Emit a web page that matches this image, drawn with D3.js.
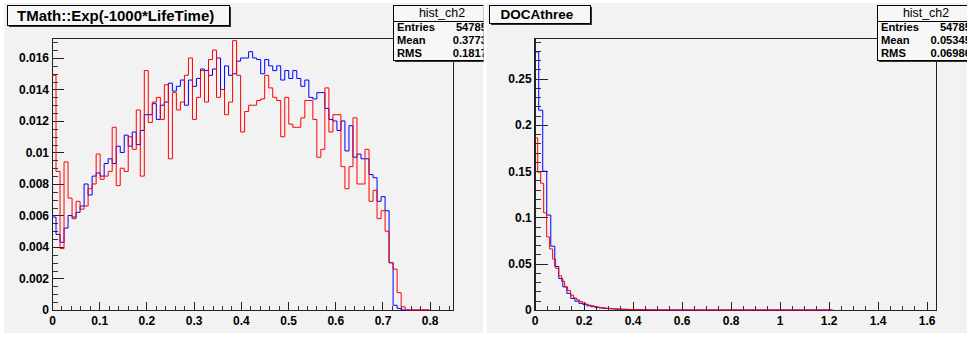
<!DOCTYPE html>
<html>
<head>
<meta charset="utf-8">
<script src="https://cdn.jsdelivr.net/npm/d3@7"></script>
<style>
  body { margin: 0; background: #fff; }
  svg text { font-family: "Liberation Sans", Arial, Helvetica, sans-serif; }
</style>
</head>
<body>
<svg id="chart" width="967" height="342"></svg>
<script>
// ---- left pad: TMath::Exp(-1000*LifeTime) ----
const leftBinWidth = 0.0085;
const leftBlue = [
  0.0059, 0.0048, 0.0043, 0.0052, 0.0060, 0.0059, 0.0062, 0.0066, 0.0080, 0.0073,
  0.0085, 0.0087, 0.0085, 0.0093, 0.0096, 0.0093, 0.0104, 0.0100, 0.0111, 0.0104,
  0.0113, 0.0105, 0.0114, 0.0124, 0.0124, 0.0131, 0.0121, 0.0130, 0.0132, 0.0144,
  0.0139, 0.0142, 0.0146, 0.0130, 0.0146, 0.0142, 0.0147, 0.0153, 0.0152, 0.0149,
  0.0153, 0.0160, 0.0140, 0.0155, 0.0149, 0.0150, 0.0158, 0.0160, 0.0160, 0.0164,
  0.0160, 0.0159, 0.0150, 0.0159, 0.0155, 0.0152, 0.0155, 0.0146, 0.0152, 0.0147,
  0.0152, 0.0147, 0.0142, 0.0146, 0.0135, 0.0134, 0.0138, 0.0138, 0.0128, 0.0121,
  0.0120, 0.0114, 0.0120, 0.0101, 0.0117, 0.0097, 0.0099, 0.0096, 0.0096, 0.0086,
  0.0084, 0.0069, 0.0072, 0.0063, 0.0030, 0.0003, 0.0001, 0, 0, 0,
  0, 0, 0, 0
];
const leftRed = [
  0.0149, 0.0088, 0.0039, 0.0094, 0.0071, 0.0058, 0.0069, 0.0064, 0.0066, 0.0077,
  0.0080, 0.0099, 0.0083, 0.0085, 0.0088, 0.0116, 0.0079, 0.0090, 0.0088, 0.0110,
  0.0102, 0.0127, 0.0085, 0.0152, 0.0119, 0.0132, 0.0135, 0.0121, 0.0143, 0.0096,
  0.0138, 0.0127, 0.0132, 0.0149, 0.0160, 0.0121, 0.0135, 0.0152, 0.0132, 0.0159,
  0.0165, 0.0135, 0.0140, 0.0124, 0.0132, 0.0171, 0.0149, 0.0113, 0.0126, 0.0130,
  0.0130, 0.0133, 0.0134, 0.0149, 0.0141, 0.0135, 0.0133, 0.0110, 0.0135, 0.0118,
  0.0116, 0.0116, 0.0122, 0.0133, 0.0133, 0.0121, 0.0097, 0.0102, 0.0141, 0.0113,
  0.0124, 0.0124, 0.0091, 0.0077, 0.0091, 0.0122, 0.0080, 0.0080, 0.0102, 0.0069,
  0.0076, 0.0058, 0.0063, 0.0050, 0.0030, 0.0026, 0.0011, 0.0002, 0, 0,
  0, 0, 0, 0
];
const leftXTicks = [0, 0.1, 0.2, 0.3, 0.4, 0.5, 0.6, 0.7, 0.8];
const leftYTicks = [0, 0.002, 0.004, 0.006, 0.008, 0.01, 0.012, 0.014, 0.016];
const leftStats = ["54785", "0.3773", "0.1817"];

// ---- right pad: DOCAthree ----
const rightBlueWidth = 0.0164;
const rightRedWidth = 0.0122;
const rightBlue = [
  0.279, 0.216, 0.150, 0.1026, 0.069, 0.047, 0.034, 0.025, 0.018, 0.0125,
  0.0095, 0.0072, 0.0060, 0.0045, 0.0036, 0.0028, 0.0022, 0.0018, 0.0015, 0.0012,
  0.0010, 0.0008, 0.0007, 0.0006, 0.0005, 0.0004, 0.0003, 0.0002, 0.0001, 0.0001,
  0.0001, 0, 0, 0, 0, 0, 0, 0, 0, 0,
  0, 0, 0, 0, 0, 0, 0, 0, 0, 0,
  0, 0, 0, 0, 0, 0, 0, 0, 0, 0,
  0, 0, 0, 0, 0, 0, 0, 0, 0, 0,
  0, 0, 0, 0
];
const rightRed = [
  0.186, 0.149, 0.137, 0.105, 0.079, 0.066, 0.055, 0.045, 0.037, 0.031,
  0.025, 0.021, 0.016, 0.013, 0.011, 0.009, 0.0075, 0.0062, 0.0052, 0.0045,
  0.0036, 0.0030, 0.0026, 0.0022, 0.0018, 0.0015, 0.0013, 0.0011, 0.0009, 0.0008,
  0.0007, 0.0006, 0.0005, 0.0005, 0.0004, 0.0004, 0.0003, 0.0003, 0.0002, 0.0002,
  0.0002, 0.0001, 0.0001, 0.0001, 0.0001, 0.0001, 0, 0.0001, 0, 0,
  0, 0, 0, 0, 0, 0, 0, 0, 0, 0,
  0, 0, 0, 0, 0, 0, 0, 0, 0, 0,
  0, 0, 0, 0, 0, 0, 0, 0, 0, 0,
  0, 0, 0, 0, 0, 0, 0, 0, 0, 0,
  0, 0, 0, 0, 0, 0, 0, 0, 0, 0
];
const rightXTicks = [0, 0.2, 0.4, 0.6, 0.8, 1, 1.2, 1.4, 1.6];
const rightYTicks = [0, 0.05, 0.1, 0.15, 0.2, 0.25];
const rightStats = ["54785", "0.05345", "0.06986"];

const statLabels = ["Entries", "Mean", "RMS"];
const statsName = "hist_ch2";

const PAD = "#f2f2f2";
const svg = d3.select("#chart");
const fmt = d3.format("~g");

function stepPath(values, width, x, y) {
  const pts = values.map((v, i) => [i * width, v]);
  pts.push([values.length * width, values[values.length - 1]]);
  return d3.line()
    .x(d => x(d[0]))
    .y(d => y(d[1]))
    .curve(d3.curveStepAfter)(pts);
}

function minorTicks(domain, step) {
  const n = Math.floor(domain[1] / step + 1e-6);
  return d3.range(n + 1).map(i => +(i * step).toFixed(6));
}

function drawPanel(p) {
  svg.append("clipPath").attr("id", p.id + "-clip")
    .append("rect")
    .attr("x", p.pad[0]).attr("y", p.pad[1])
    .attr("width", p.pad[2] - p.pad[0]).attr("height", p.pad[3] - p.pad[1]);

  const g = svg.append("g").attr("clip-path", `url(#${p.id}-clip)`);

  g.append("rect")
    .attr("x", p.pad[0]).attr("y", p.pad[1])
    .attr("width", p.pad[2] - p.pad[0]).attr("height", p.pad[3] - p.pad[1])
    .attr("fill", PAD);

  const x = d3.scaleLinear().domain(p.xDomain).range([p.frame.x0, p.frame.x1]);
  const y = d3.scaleLinear().domain(p.yDomain).range([p.frame.y1, p.frame.y0]);

  // frame
  g.append("rect")
    .attr("x", p.frame.x0).attr("y", p.frame.y0)
    .attr("width", p.frame.x1 - p.frame.x0).attr("height", p.frame.y1 - p.frame.y0)
    .attr("fill", PAD).attr("stroke", "#222").attr("stroke-width", 1)
    .attr("shape-rendering", "crispEdges");

  // minor ticks
  g.append("g")
    .attr("transform", `translate(${p.frame.x0},0)`)
    .call(d3.axisLeft(y).tickValues(minorTicks(p.yDomain, p.yMinor))
      .tickSize(-p.yMinorLen).tickSizeOuter(0).tickFormat(""))
    .call(a => a.select(".domain").remove())
    .attr("color", "#333").attr("shape-rendering", "crispEdges");

  g.append("g")
    .attr("transform", `translate(0,${p.frame.y1})`)
    .call(d3.axisBottom(x).tickValues(minorTicks(p.xDomain, p.xMinor))
      .tickSize(-4).tickSizeOuter(0).tickFormat(""))
    .call(a => a.select(".domain").remove())
    .attr("color", "#333").attr("shape-rendering", "crispEdges");

  // major ticks + labels
  const yAxis = g.append("g")
    .attr("transform", `translate(${p.frame.x0},0)`)
    .call(d3.axisLeft(y).tickValues(p.yTicks).tickSize(-p.yMajorLen)
      .tickSizeOuter(0).tickPadding(3).tickFormat(fmt));
  const xAxis = g.append("g")
    .attr("transform", `translate(0,${p.frame.y1})`)
    .call(d3.axisBottom(x).tickValues(p.xTicks).tickSize(-8)
      .tickSizeOuter(0).tickPadding(6.5).tickFormat(fmt));
  [yAxis, xAxis].forEach(a => {
    a.attr("font-size", 12).attr("font-family", null).attr("color", "#222")
      .attr("shape-rendering", "crispEdges");
    a.selectAll("text").attr("font-weight", "bold").attr("fill", "#000")
      .attr("shape-rendering", null);
  });

  // histograms
  p.series.forEach(s => {
    g.append("path")
      .attr("d", stepPath(s.values, s.width, x, y))
      .attr("fill", "none")
      .attr("stroke", s.color)
      .attr("stroke-width", 1);
  });

  // title box
  const t = p.title;
  g.append("rect").attr("x", t.x + 2).attr("y", t.y + 2)
    .attr("width", t.w).attr("height", t.h).attr("fill", "#333");
  g.append("rect").attr("x", t.x).attr("y", t.y)
    .attr("width", t.w).attr("height", t.h)
    .attr("fill", "#f7f7f7").attr("stroke", "#000").attr("stroke-width", 1)
    .attr("shape-rendering", "crispEdges");
  g.append("text").attr("x", t.x + t.pad).attr("y", t.y + t.base)
    .attr("font-size", t.size).attr("font-weight", "bold")
    .text(t.text);

  // stats box
  const b = p.stats;
  g.append("rect").attr("x", b.x + 2).attr("y", b.y + 2)
    .attr("width", b.w).attr("height", b.h).attr("fill", "#333");
  g.append("rect").attr("x", b.x).attr("y", b.y)
    .attr("width", b.w).attr("height", b.h)
    .attr("fill", "#f7f7f7").attr("stroke", "#000").attr("stroke-width", 1)
    .attr("shape-rendering", "crispEdges");
  g.append("line")
    .attr("x1", b.x).attr("x2", b.x + b.w)
    .attr("y1", b.y + 16).attr("y2", b.y + 16)
    .attr("stroke", "#000").attr("shape-rendering", "crispEdges");
  g.append("text").attr("x", b.x + b.w / 2).attr("y", b.y + 11.5)
    .attr("text-anchor", "middle").attr("font-size", 12.4)
    .text(statsName);
  statLabels.forEach((lab, i) => {
    const yy = b.y + 26 + i * 13;
    g.append("text").attr("x", b.x + 4).attr("y", yy)
      .attr("font-size", 11.2).attr("font-weight", "bold").text(lab);
    g.append("text").attr("x", b.x + b.w - 4).attr("y", yy)
      .attr("text-anchor", "end")
      .attr("font-size", 11.2).attr("font-weight", "bold").text(b.values[i]);
  });
}

drawPanel({
  id: "left",
  pad: [4, 3, 483.5, 333],
  frame: { x0: 52, x1: 453.3, y0: 38.3, y1: 310 },
  xDomain: [0, 0.85],
  yDomain: [0, 0.01725],
  xTicks: leftXTicks, yTicks: leftYTicks,
  xMinor: 0.02, yMinor: 0.0005,
  yMajorLen: 11.5, yMinorLen: 6,
  series: [
    { values: leftBlue, width: leftBinWidth, color: "#0000ff" },
    { values: leftRed, width: leftBinWidth, color: "#ff0000" }
  ],
  title: { x: 7, y: 5, w: 222, h: 20, pad: 10, base: 15.5, size: 15,
           text: "TMath::Exp(-1000*LifeTime)" },
  stats: { x: 393, y: 5, w: 98, h: 55, values: leftStats }
});

drawPanel({
  id: "right",
  pad: [486.5, 3, 967, 333],
  frame: { x0: 534.7, x1: 936.7, y0: 38.3, y1: 310 },
  xDomain: [0, 1.641],
  yDomain: [0, 0.2937],
  xTicks: rightXTicks, yTicks: rightYTicks,
  xMinor: 0.05, yMinor: 0.01,
  yMajorLen: 13, yMinorLen: 6,
  series: [
    { values: rightBlue, width: rightBlueWidth, color: "#0000ff" },
    { values: rightRed, width: rightRedWidth, color: "#ff0000" }
  ],
  title: { x: 489, y: 5, w: 101, h: 18, pad: 11.5, base: 13.8, size: 13.5,
           text: "DOCAthree" },
  stats: { x: 877, y: 5, w: 98, h: 55, values: rightStats }
});
</script>
</body>
</html>
